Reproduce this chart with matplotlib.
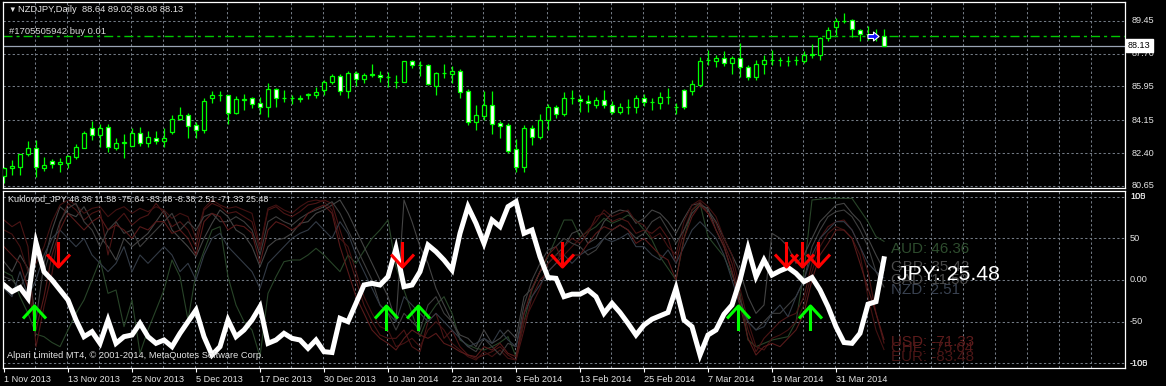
import numpy as np
import matplotlib.pyplot as plt
from matplotlib.path import Path

plt.rcParams['font.family'] = ['Liberation Sans', 'DejaVu Sans']

# NZDJPY daily candles, 1 Nov 2013 .. 9 Apr 2014
opens = [81.19, 81.59, 81.67, 82.36, 82.65, 81.62, 81.96, 81.80, 81.88, 82.19,
         82.68, 83.76, 83.34, 83.81, 82.68, 82.96, 82.78, 83.46, 82.96, 83.23,
         83.05, 83.53, 84.20, 84.45, 83.87, 83.63, 85.33, 85.47, 85.47, 84.52,
         85.22, 85.31, 85.05, 84.85, 85.83, 85.33, 85.33, 85.30, 85.51, 85.51,
         85.75, 86.18, 86.53, 85.70, 86.68, 86.36, 86.59, 86.57, 86.44, 86.18,
         86.20, 87.31, 87.10, 87.10, 86.00, 86.68, 86.64, 86.78, 85.69, 84.06,
         84.38, 84.98, 83.99, 83.87, 82.61, 81.64, 83.76, 83.26, 84.18, 84.87,
         84.47, 85.33, 85.30, 85.19, 84.96, 85.22, 84.98, 84.59, 84.85, 84.85,
         85.35, 85.12, 85.06, 85.38, 84.85, 85.74, 85.70, 86.02, 87.34, 87.33,
         87.47, 87.21, 87.47, 87.01, 86.44, 87.13, 87.34, 87.34, 87.31, 87.34,
         87.29, 87.65, 87.65, 88.53, 89.10, 89.45, 89.49, 88.96, 88.75, 88.66, 88.64]
highs = [81.65, 82.03, 82.34, 83.03, 83.09, 82.19, 82.08, 82.13, 82.31, 82.87,
         83.60, 84.09, 83.94, 83.97, 83.18, 83.40, 83.76, 83.81, 83.56, 83.56,
         83.72, 84.45, 84.84, 84.53, 84.08, 85.31, 85.72, 85.69, 85.50, 85.44,
         85.54, 85.37, 85.37, 86.11, 85.86, 85.75, 85.47, 85.47, 85.58, 85.93,
         86.32, 86.64, 86.60, 86.80, 86.78, 86.68, 87.17, 86.78, 86.71, 86.57,
         87.33, 87.38, 87.28, 87.13, 86.70, 87.17, 87.03, 86.89, 85.83, 84.94,
         85.69, 85.69, 84.13, 83.99, 83.14, 83.88, 83.88, 84.47, 84.99, 84.98,
         85.65, 85.75, 85.51, 85.51, 85.38, 85.74, 85.17, 85.06, 85.26, 85.47,
         85.56, 85.35, 85.67, 85.88, 85.09, 85.84, 86.31, 87.54, 87.91, 87.61,
         87.82, 87.59, 88.27, 87.08, 87.38, 87.65, 87.91, 87.50, 87.56, 87.56,
         87.82, 88.23, 88.59, 89.12, 89.59, 89.89, 89.56, 89.03, 89.19, 89.03, 89.02]
lows = [80.81, 81.23, 81.25, 82.22, 81.11, 81.46, 81.62, 81.41, 81.60, 82.08,
        82.66, 83.10, 82.70, 82.47, 82.57, 82.15, 82.76, 82.78, 82.75, 82.89,
        82.70, 83.40, 84.15, 83.19, 83.19, 83.46, 85.05, 85.16, 83.97, 84.47,
        84.69, 84.80, 84.47, 84.32, 84.85, 85.12, 85.00, 85.12, 85.30, 85.33,
        85.51, 86.07, 85.49, 85.33, 85.97, 86.15, 86.43, 86.21, 85.93, 85.86,
        86.18, 86.96, 86.50, 86.04, 85.47, 86.39, 86.15, 85.33, 83.92, 83.63,
        84.16, 83.42, 83.18, 82.43, 81.41, 81.41, 82.82, 83.14, 83.63, 84.27,
        84.38, 85.01, 84.59, 84.59, 84.78, 84.82, 84.47, 84.47, 84.47, 84.56,
        84.91, 84.68, 84.73, 85.00, 84.47, 84.77, 85.49, 85.91, 87.08, 86.97,
        87.03, 86.59, 86.44, 86.31, 86.31, 86.59, 87.08, 87.03, 87.03, 87.08,
        87.21, 87.47, 87.38, 88.39, 88.71, 89.33, 88.59, 88.39, 88.43, 88.35, 88.08]
closes = [81.60, 81.69, 82.33, 82.65, 81.64, 81.75, 81.80, 81.90, 82.22, 82.70,
          83.49, 83.34, 83.76, 82.70, 82.96, 82.97, 83.46, 82.96, 83.25, 83.07,
          83.23, 84.24, 84.45, 83.85, 83.63, 85.19, 85.47, 85.48, 84.53, 85.26,
          85.30, 85.01, 84.87, 85.83, 85.33, 85.32, 85.34, 85.30, 85.56, 85.65,
          86.20, 86.53, 85.70, 86.68, 86.36, 86.57, 86.58, 86.46, 86.44, 86.18,
          87.31, 87.10, 87.10, 86.09, 86.68, 86.67, 86.78, 85.65, 84.03, 84.41,
          84.98, 83.95, 83.85, 82.49, 81.64, 83.76, 83.28, 84.18, 84.87, 84.48,
          85.35, 85.34, 85.17, 85.06, 85.25, 84.98, 84.59, 84.87, 84.85, 85.35,
          85.14, 85.12, 85.40, 85.38, 84.85, 84.87, 86.06, 87.33, 87.35, 87.47,
          87.21, 87.47, 86.97, 86.46, 87.15, 87.38, 87.35, 87.34, 87.32, 87.34,
          87.65, 87.65, 88.55, 88.97, 89.45, 89.44, 89.01, 88.75, 88.75, 88.64, 88.13]

order_price = 88.64
bid_price = 88.13
order_bar = 108.6
price_ticks = [89.45, 87.70, 85.95, 84.15, 82.40, 80.65]

date_labels = ['1 Nov 2013', '13 Nov 2013', '25 Nov 2013', '5 Dec 2013', '17 Dec 2013',
               '30 Dec 2013', '10 Jan 2014', '22 Jan 2014', '3 Feb 2014', '13 Feb 2014',
               '25 Feb 2014', '7 Mar 2014', '19 Mar 2014', '31 Mar 2014']

# Kuklovod currency strength indicator
jpy = [-6, -14, -9, -22, 45, 10, 0, -12, -24, -48,
       -68, -62, -76, -48, -76, -68, -66, -52, -68, -76,
       -72, -80, -64, -50, -36, -68, -90, -80, -48, -68,
       -60, -48, -32, -76, -72, -64, -70, -72, -82, -72,
       -86, -87, -46, -50, -28, -6, -4, -6, 4, 38,
       -8, -6, 10, 42, 34, 24, 12, 56, 88, 68,
       44, 72, 64, 88, 94, 56, 60, 28, 3, 2,
       -20, -17, -17, -12, -20, -40, -28, -39, -52, -66,
       -54, -47, -43, -39, -10, -48, -56, -90, -66, -60,
       -41, -30, 0, 38, 4, 24, 6, 11, 15, 8,
       -2, 3, -12, -32, -56, -75, -76, -64, -29, -26, 25.48]
aud = [10, 5, -20, -40, -65, -68, -75, -80, -60, -40,
       -24, 0, 24, -16, -12, -56, -24, -88, -60, -36,
       -12, 24, 4, -48, 8, 35, 60, 64, 4, -30,
       -50, -60, -92, -16, 4, 22, 24, 24, 30, 38,
       30, 20, 10, 30, 20, 35, 50, 60, 72, 16,
       -12, -40, -68, -44, -30, -20, -40, -72, -78, -82,
       -84, -80, -75, -68, -92, -50, -12, 10, 28, 50,
       72, 72, 52, 58, 64, 74, 68, 72, 78, 72,
       60, 48, 28, 14, 0, 50, 84, 92, 52, 40,
       28, 6, -16, -72, -80, -76, -72, -70, -68, -50,
       10, 96, 97, 98, 98, 98, 98, 84, 70, 52, 46.36]
cad = [22, 10, 30, 14, -48, 20, 60, 88, 80, 76,
       88, 70, 52, 40, 24, 50, 40, 48, 56, 70,
       84, 60, 50, 40, 28, 50, 68, 84, 76, 60,
       54, 40, 16, 40, 48, 50, 56, 68, 70, 80,
       84, 90, 96, 80, 60, 40, 20, 0, -20, -50,
       96, 70, 40, 20, -10, -30, -50, -66, -70, -80,
       -60, -76, -70, -60, -70, -20, -10, 10, 20, 30,
       40, 56, 60, 44, 50, 70, 80, 84, 82, 68,
       74, 84, 80, 70, 56, 74, 90, 92, 84, 70,
       50, 30, 10, -20, -40, -30, 56, 50, 40, 20,
       30, 50, 70, 80, 90, 92, 80, 70, 50, 30, 11.58]
chf = [72, 64, 70, 40, -80, -32, 8, 68, 92, 84,
       72, 80, 84, 30, 70, 80, 66, 74, 78, 92,
       80, 64, 70, 60, 40, 84, 92, 88, 80, 82,
       76, 70, 36, 84, 88, 80, 76, 82, 90, 92,
       96, 92, 60, 30, 0, -30, -50, -66, -70, -70,
       -60, -80, -86, -50, -40, -70, -60, -80, -90, -94,
       -90, -86, -80, -90, -96, -60, -20, 0, 10, 20,
       40, 50, 44, 56, 76, 80, 70, 74, 70, 56,
       60, 56, 64, 50, 20, 60, 84, 94, 80, 68,
       44, 20, -20, -60, -86, -70, -60, -50, -44, -40,
       -20, 20, 50, 64, 70, 72, 60, 40, 10, -40, -75.64]
eur = [60, 55, 40, 10, 20, 40, 70, 90, 96, 90,
       80, 86, 88, 76, 84, 88, 80, 86, 82, 88,
       84, 74, 80, 76, 50, 86, 96, 90, 86, 88,
       84, 80, 40, 86, 90, 84, 80, 88, 94, 96,
       94, 84, 50, 40, 10, -20, -40, -56, -60, -80,
       -76, -70, -80, -60, -50, -60, -76, -84, -92, -96,
       -86, -92, -84, -94, -96, -50, -30, -10, 20, 30,
       30, 40, 50, 60, 70, 84, 76, 80, 84, 70,
       66, 50, 56, 40, 30, 70, 90, 96, 88, 76,
       50, 30, -10, -50, -80, -84, -70, -66, -60, -50,
       -30, 10, 40, 56, 64, 60, 50, 30, -20, -60, -83.48]
gbp = [4, 0, -10, 10, 30, 10, 40, 70, 86, 92,
       70, 60, 40, 60, 70, 56, 60, 40, 50, 60,
       70, 80, 60, 70, 60, 76, 80, 70, 70, 76,
       70, 60, 30, 70, 76, 70, 66, 74, 80, 84,
       88, 94, 80, 60, 40, 20, 0, -30, -40, -60,
       -40, -50, -60, -30, -20, -40, -50, -70, -80, -86,
       -70, -80, -90, -76, -80, -30, 0, 20, 36, 40,
       50, 44, 40, 30, 36, 50, 60, 66, 60, 50,
       56, 70, 76, 60, 44, 60, 80, 90, 86, 60,
       40, 10, -24, -50, -60, -50, -40, -40, -30, -20,
       0, 40, 60, 76, 82, 84, 76, 60, 40, 10, -8.38]
nzd = [-10, -20, 10, -20, 0, 30, 50, 60, 50, 40,
       50, 30, 20, 10, 20, 40, 10, 30, 20, 30,
       40, 30, 10, 20, 0, 30, 50, 56, 40, 30,
       20, 10, -10, 20, 30, 40, 50, 56, 60, 70,
       60, 50, 70, 56, 30, 10, -10, -30, -40, -50,
       -20, -30, -40, -50, -40, -50, -60, -70, -80, -76,
       -70, -76, -60, -72, -80, -40, -20, -6, 10, 20,
       30, 20, 30, 36, 40, 50, 46, 50, 56, 40,
       40, 30, 24, 36, 20, 40, 60, 70, 60, 50,
       30, 0, -30, -50, -60, -56, -40, -30, -44, -20,
       0, 30, 50, 60, 70, 70, 60, 40, 20, 10, 2.51]
usd = [40, 30, 20, -10, -60, -20, 30, 60, 80, 70,
       60, 70, 76, 60, 66, 60, 50, 64, 60, 70,
       70, 56, 60, 50, 30, 70, 80, 76, 60, 66,
       64, 56, 20, 60, 70, 66, 60, 66, 80, 86,
       90, 80, 40, 10, -20, -40, -60, -70, -76, -84,
       -70, -60, -66, -70, -64, -76, -80, -86, -90, -92,
       -80, -84, -76, -88, -92, -40, -10, 10, 30, 40,
       20, 30, 30, 44, 56, 64, 60, 66, 60, 44,
       50, 40, 30, 24, 0, 50, 76, 90, 80, 60,
       40, 10, -30, -70, -90, -80, -76, -80, -70, -60,
       -40, 0, 30, 44, 60, 60, 50, 20, -10, -40, -71.33]

sell_bars = [7, 50, 70, 98, 100, 102]
buy_bars = [4, 48, 52, 92, 101]
sell_level = 31
buy_level = -45

curr_names = ['AUD', 'CAD', 'CHF', 'EUR', 'GBP', 'NZD', 'USD']
curr_series = [aud, cad, chf, eur, gbp, nzd, usd]
curr_colors = ['#284428', '#444444', '#4c1515', '#421212', '#3e3e3e', '#333b46', '#581a1a']
label_texts = ['AUD: 46.36', 'GBP: 35.42', 'CAD: 11.58', 'NZD: 2.51',
               'USD: -71.33', 'CHF: -75.64', 'EUR: -83.48']
label_colors = ['#2e4d2e', '#4a4a4a', '#4a4a4a', '#3a4352', '#5e1c1c', '#521818', '#4a1616']
label_y = [37, 16, 0, -12, -74, -82, -92]

W, H = 1166, 386
GRID = '#727a84'
GREEN = '#00ff00'
TXT = '#e4e4e4'

fig = plt.figure(figsize=(W / 100, H / 100), dpi=100, facecolor='black')
ax_p = fig.add_axes([3 / W, 1 - 188 / H, 1122 / W, 186 / H])
ax_i = fig.add_axes([3 / W, 1 - 368 / H, 1122 / W, 177 / H])

xlim = (-1 / 8, 1121 / 8)
for ax in (ax_p, ax_i):
    ax.set_facecolor('black')
    ax.set_xlim(*xlim)
    for s in ax.spines.values():
        s.set_color('white')
        s.set_linewidth(0.9)
    ax.tick_params(left=False, labelleft=False, right=False, labelright=False)
    for gx in range(4, 140, 4):
        ax.axvline(gx - 0.125, color=GRID, lw=0.75, dashes=(2.2, 2.2), zorder=0)

# ---- price panel ----
ax_p.set_ylim(80.54, 90.45)
ax_p.tick_params(bottom=False, labelbottom=False)
for p in price_ticks:
    ax_p.axhline(p, color=GRID, lw=0.75, dashes=(2.2, 2.2), zorder=0)
    ax_p.text(1.0062, p, f'{p:.2f}', transform=ax_p.get_yaxis_transform(),
              color=TXT, fontsize=6.6, va='center', ha='left')

o = np.array(opens)
h = np.array(highs)
l = np.array(lows)
c = np.array(closes)
x = np.arange(len(o))
ax_p.vlines(x, l, h, color=GREEN, lw=0.9, zorder=2)
bull = c >= o
bottom = np.minimum(o, c)
height = np.maximum(np.abs(c - o), 0.015)
ax_p.bar(x[bull], height[bull], bottom=bottom[bull], width=0.62,
         color='black', edgecolor=GREEN, lw=0.9, zorder=3)
ax_p.bar(x[~bull], height[~bull], bottom=bottom[~bull], width=0.62,
         color='white', edgecolor=GREEN, lw=0.9, zorder=3)

ax_p.axhline(order_price, color='#00c800', lw=1.0, dashes=(6.5, 2.9, 2.2, 2.9), zorder=1)
ax_p.axhline(bid_price, color='#9aa4b4', lw=0.9, zorder=1)
ax_p.text(1.0025, bid_price, f'{bid_price:.2f}', transform=ax_p.get_yaxis_transform(),
          color='black', fontsize=6.6, va='center', ha='left',
          bbox=dict(facecolor='white', edgecolor='white', pad=1.6))

arrow_r = Path([(-1, 0.35), (0, 0.35), (0, 0.8), (1, 0), (0, -0.8), (0, -0.35), (-1, -0.35), (-1, 0.35)])
ax_p.plot([order_bar], [order_price], marker=arrow_r, ms=8, mfc='#1010ff', mec='white',
          mew=0.8, ls='none', zorder=5)

fig.text(8 / W, 1 - 10 / H, '▼', color=TXT, fontsize=5.5, va='center', ha='left')
fig.text(18 / W, 1 - 10 / H, 'NZDJPY,Daily  88.64 89.02 88.08 88.13', color=TXT,
         fontsize=6.75, va='center', ha='left')
fig.text(9 / W, 1 - 31 / H, '#1705505942 buy 0.01', color='#d8d8d8',
         fontsize=6.8, va='center', ha='left')

# ---- indicator panel ----
ax_i.set_ylim(-105.6, 106.8)
for v in [100, 50, 0, -50, -100]:
    ax_i.axhline(v, color=GRID, lw=0.75, dashes=(2.2, 2.2), zorder=0)
for v, s in [(100, '105'), (100, '100'), (50, '50'), (0, '0.00'), (-50, '-50'),
             (-100, '-105'), (-100, '-100')]:
    ax_i.text(1.0045, v, s, transform=ax_i.get_yaxis_transform(),
              color=TXT, fontsize=6.6, va='center', ha='left')

xi = np.arange(len(jpy))
for ser, col in zip(curr_series, curr_colors):
    ax_i.plot(xi, ser, color=col, lw=0.8, zorder=2)
ax_i.plot(xi, jpy, color='white', lw=3.6, solid_joinstyle='miter', zorder=4)

for txt, col, yy in zip(label_texts, label_colors, label_y):
    ax_i.text(110.9, yy, txt, color=col, fontsize=10.9, va='center', ha='left', zorder=5)
ax_i.text(111.6, 7, 'JPY: 25.48', color='white', fontsize=15.3, va='center', ha='left', zorder=6)

down = Path([(0, 12.5), (0, -12.5), (-11.5, 0), (0, -12.5), (11.5, 0)],
            [Path.MOVETO, Path.LINETO, Path.MOVETO, Path.LINETO, Path.LINETO])
up = Path([(0, -12.5), (0, 12.5), (-11.5, 0), (0, 12.5), (11.5, 0)],
          [Path.MOVETO, Path.LINETO, Path.MOVETO, Path.LINETO, Path.LINETO])
ax_i.plot(np.array(sell_bars) - 0.2, [sell_level] * len(sell_bars), marker=down, ms=18,
          mfc='none', mec='#ff0000', mew=2.2, ls='none', zorder=7)
ax_i.plot(np.array(buy_bars) - 0.2, [buy_level] * len(buy_bars), marker=up, ms=18,
          mfc='none', mec='#00ff00', mew=2.2, ls='none', zorder=7)

ax_i.set_xticks(range(0, 8 * len(date_labels), 8))
ax_i.set_xticklabels(date_labels, ha='left', fontsize=6.6, color=TXT)
ax_i.tick_params(axis='x', colors='white', length=3, width=0.8, pad=2, labelcolor=TXT)

fig.text(8 / W, 1 - 199 / H, 'Kuklovod_JPY 46.36 11.58 -75.64 -83.48 -8.38 2.51 -71.33 25.48',
         color=TXT, fontsize=6.5, va='center', ha='left')
fig.text(7 / W, 1 - 356 / H, 'Alpari Limited MT4, © 2001-2014, MetaQuotes Software Corp.',
         color=TXT, fontsize=6.7, va='center', ha='left', zorder=10)

fig.savefig('out.png', dpi=100, facecolor='black')
